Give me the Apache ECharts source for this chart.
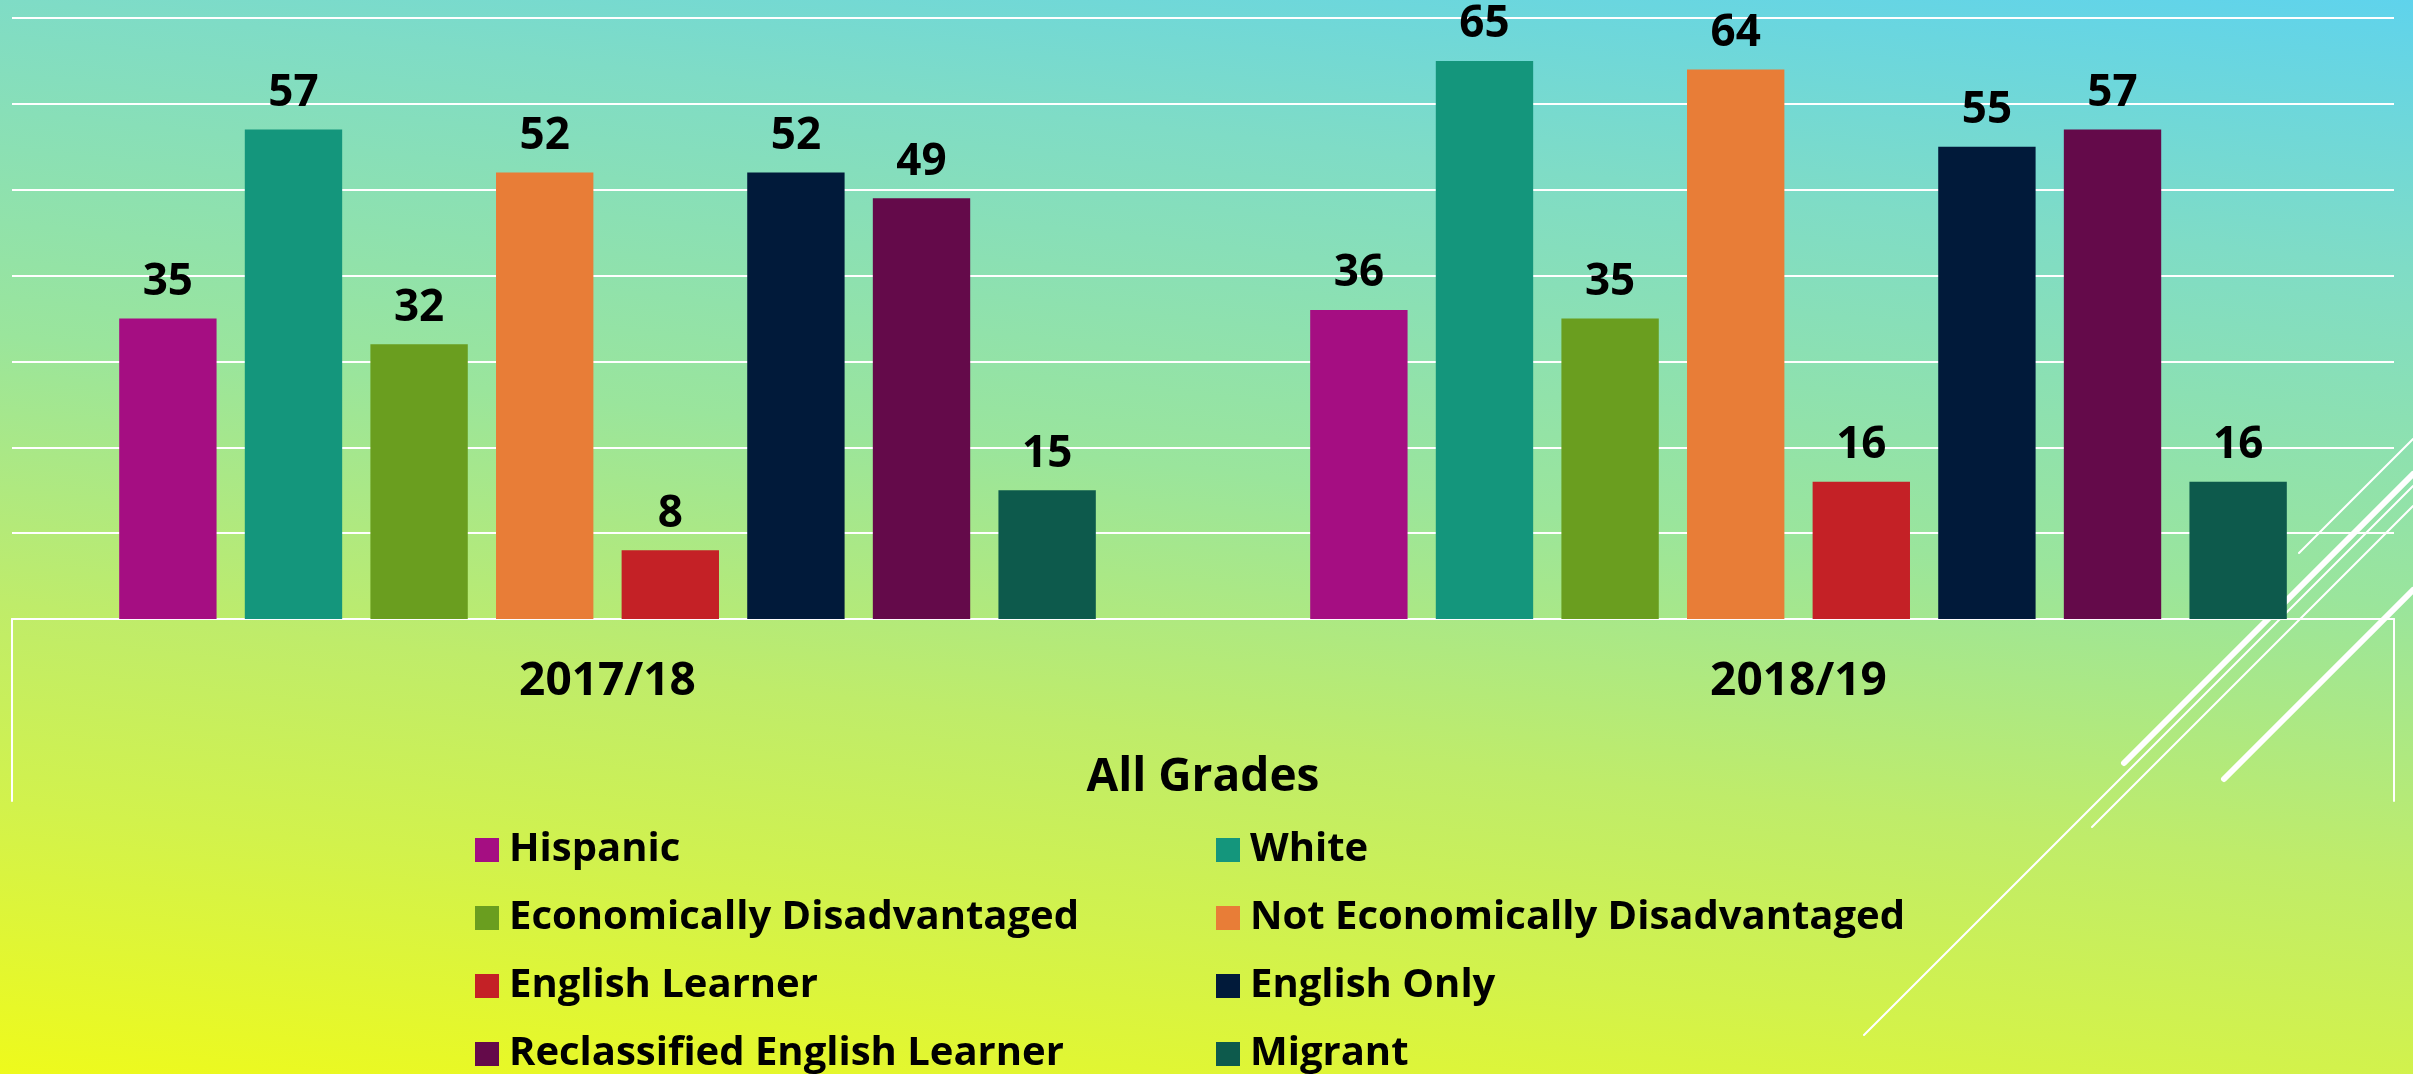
<!DOCTYPE html>
<html>
<head>
<meta charset="utf-8">
<title>All Grades</title>
<script src="https://cdn.jsdelivr.net/npm/echarts@6/dist/echarts.min.js"></script>
<style>
  html, body {
    margin: 0;
    padding: 0;
    width: 2413px;
    height: 1074px;
    overflow: hidden;
  }
  body {
    background: linear-gradient(6.4deg, #eefa1c 0%, #d2f24c 20%, #bfec6a 35%, #9ae59c 55%, #7fdcc6 80%, #5fd3ec 100%);
  }
  #chart {
    width: 2413px;
    height: 1074px;
  }
</style>
</head>
<body>
<div id="chart"></div>
<script>
// data
const years = ['2017/18', '2018/19']
const groups = [
  'Hispanic',
  'White',
  'Economically Disadvantaged',
  'Not Economically Disadvantaged',
  'English Learner',
  'English Only',
  'Reclassified English Learner',
  'Migrant'
]
const values1718 = [35, 57, 32, 52, 8, 52, 49, 15]
const values1819 = [36, 65, 35, 64, 16, 55, 57, 16]
const yTicks = [0, 10, 20, 30, 40, 50, 60, 70]

const colorList = [
  '#a50e82',
  '#14967c',
  '#6a9e1f',
  '#e87d37',
  '#c42126',
  '#011a3a',
  '#640a4a',
  '#0d5a4c'
]

const W = 2413
const H = 1074
const gridLeft = 12
const gridRight = 19
const gridTop = 18
const gridBottom = 455
const baseY = H - gridBottom
const font = '"Open Sans", "DejaVu Sans", sans-serif'

const series = groups.map((name, i) => ({
  name: name,
  type: 'bar',
  barGap: '29%',
  barCategoryGap: '18%',
  itemStyle: {color: colorList[i]},
  label: {
    show: true,
    position: 'top',
    distance: 14,
    color: '#000',
    fontFamily: font,
    fontWeight: 'bold',
    fontSize: 44
  },
  data: [values1718[i], values1819[i]]
}))

// white frame lines under the axis + theme strokes on the right
const white = '#ffffff'
const decoLines = [
  [gridLeft, baseY, gridLeft, 801, 2],
  [W - gridRight, baseY, W - gridRight, 801, 2],
  [2299, 553, 2413, 439, 2],
  [2124, 763, 2413, 474, 6],
  [1864, 1035, 2413, 486, 2],
  [2092, 827, 2413, 506, 2],
  [2224, 779, 2413, 590, 6]
]
const graphics = decoLines.map(l => ({
  type: 'line',
  silent: true,
  z: 1,
  shape: {x1: l[0], y1: l[1], x2: l[2], y2: l[3]},
  style: {stroke: white, lineWidth: l[4], lineCap: 'round'}
}))

const legendBase = {
  orient: 'vertical',
  top: 830,
  height: 250,
  padding: 0,
  icon: 'rect',
  itemWidth: 24,
  itemHeight: 24,
  itemGap: 28,
  selectedMode: false,
  textStyle: {
    color: '#000',
    fontFamily: font,
    fontWeight: 'bold',
    fontSize: 40,
    lineHeight: 40,
    padding: [0, 0, 0, 5]
  }
}

const option = {
  animation: false,
  backgroundColor: 'transparent',
  color: colorList,
  graphic: graphics,
  legend: [
    Object.assign({}, legendBase, {left: 475, data: groups.filter((g, i) => i % 2 === 0)}),
    Object.assign({}, legendBase, {left: 1216, data: groups.filter((g, i) => i % 2 === 1)})
  ],
  grid: {
    left: gridLeft,
    right: gridRight,
    top: gridTop,
    bottom: gridBottom,
    containLabel: false
  },
  xAxis: {
    type: 'category',
    data: years,
    name: 'All Grades',
    nameLocation: 'middle',
    nameGap: 136,
    nameTextStyle: {
      color: '#000',
      fontFamily: font,
      fontWeight: 'bold',
      fontSize: 46
    },
    axisLine: {show: true, lineStyle: {color: white, width: 2}},
    axisTick: {show: false},
    axisLabel: {
      margin: 40,
      color: '#000',
      fontFamily: font,
      fontWeight: 'bold',
      fontSize: 46
    }
  },
  yAxis: {
    type: 'value',
    min: yTicks[0],
    max: yTicks[yTicks.length - 1],
    interval: yTicks[1] - yTicks[0],
    axisLabel: {show: false},
    axisLine: {show: false},
    axisTick: {show: false},
    splitLine: {lineStyle: {color: white, width: 2}}
  },
  series: series
}

const myChart = echarts.init(document.getElementById('chart'))
myChart.setOption(option)
window.addEventListener('resize', () => {
  myChart.resize()
})
</script>
</body>
</html>
